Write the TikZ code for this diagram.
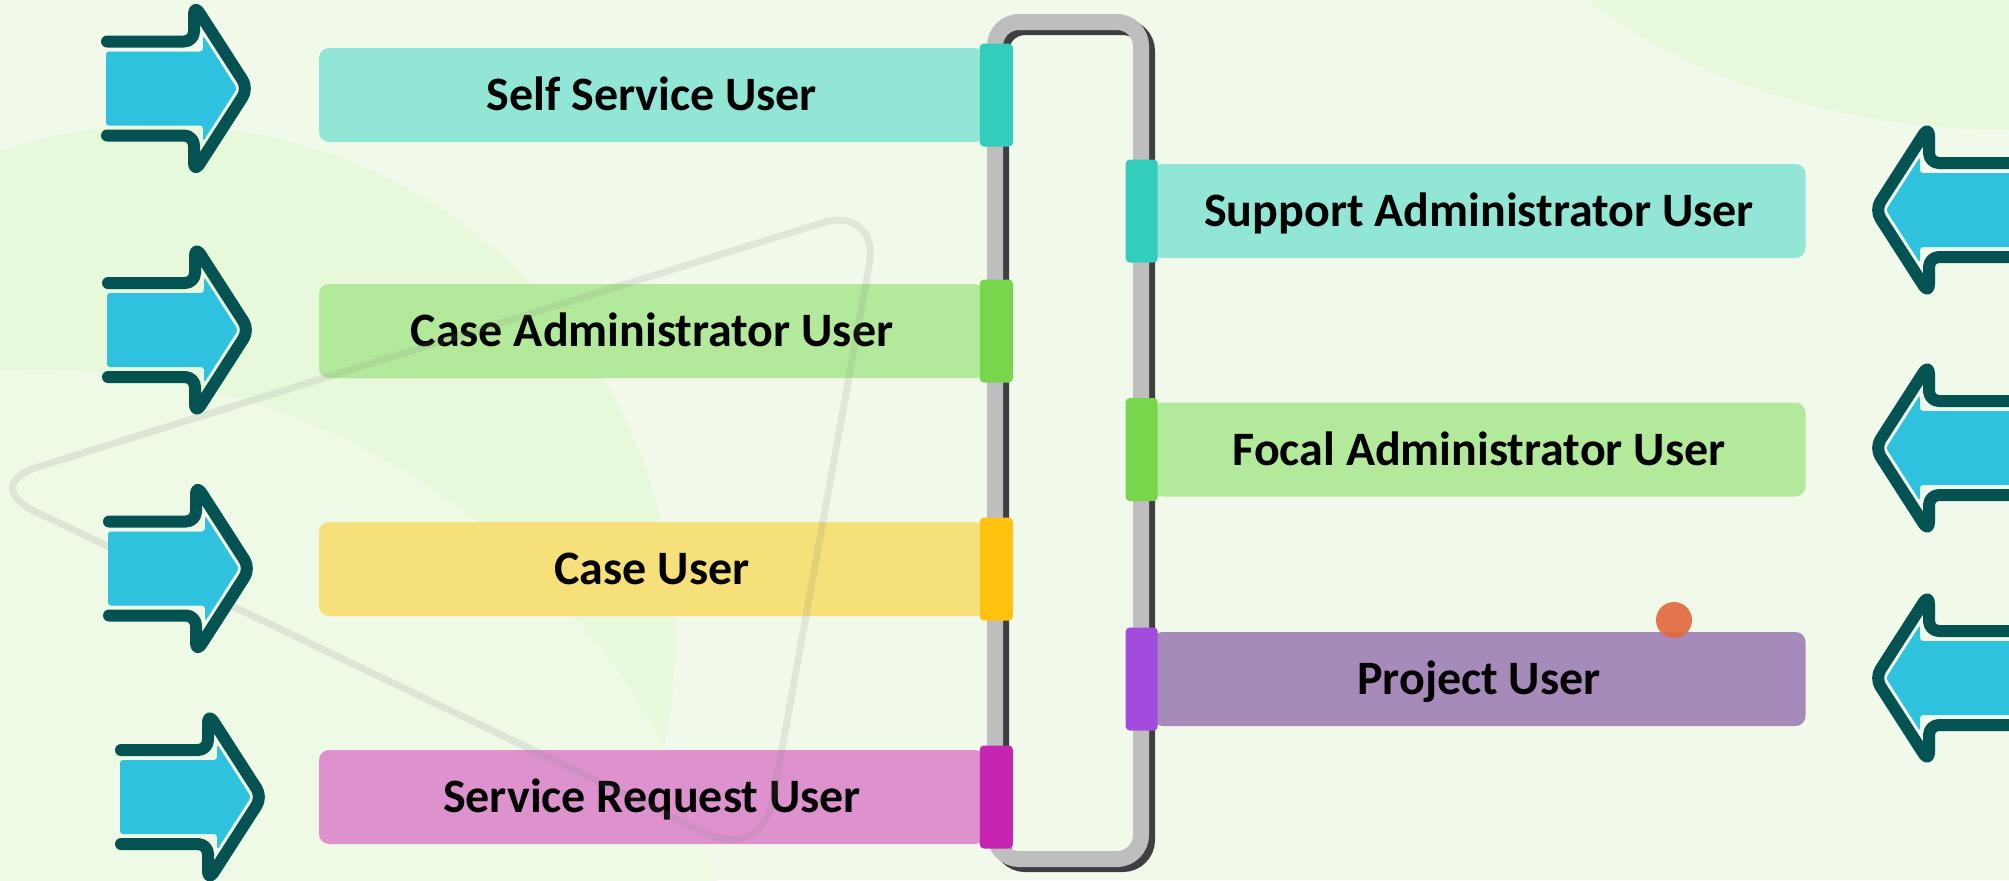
\documentclass[tikz,border=0pt]{standalone}
\usepackage{fontspec}
\setmainfont{Carlito}
\definecolor{bgcol}{HTML}{F1FAEA}
\definecolor{blobcol}{HTML}{E7F8DB}
\definecolor{blobtwo}{HTML}{EEF9E6}
\definecolor{tealbox}{HTML}{92E6D6}
\definecolor{tealtab}{HTML}{32CDBC}
\definecolor{greenbox}{HTML}{B3E99A}
\definecolor{greentab}{HTML}{77D64B}
\definecolor{yellowbox}{HTML}{F5E07A}
\definecolor{yellowtab}{HTML}{FFC20E}
\definecolor{pinkbox}{HTML}{DD92CE}
\definecolor{pinktab}{HTML}{C525B0}
\definecolor{purplebox}{HTML}{A68ABA}
\definecolor{purpletab}{HTML}{A24BDF}
\definecolor{arrowfill}{HTML}{2EC2DE}
\definecolor{arrowline}{HTML}{045252}
\definecolor{railgray}{HTML}{BEBEBE}
\definecolor{railshadow}{HTML}{3E3F42}
\definecolor{dotcol}{HTML}{E2683C}
\tikzset{
  userbox/.style={fill=#1, rounded corners=5pt, inner sep=0pt, minimum height=47pt,
    font=\bfseries\fontsize{24}{28}\selectfont, text height=15.5pt, text depth=0pt},
  lbox/.style={userbox=#1, minimum width=333pt},
  rbox/.style={userbox=#1, minimum width=326.5pt},
  usertab/.style={fill=#1, rounded corners=2pt, inner sep=0pt, minimum width=16.5pt, minimum height=51.5pt},
}
\begin{document}
\begin{tikzpicture}[x=0.5pt,y=-0.5pt,line join=round]
	%==background
	\useasboundingbox (0,0) rectangle (2009,880);
	\clip (0,0) rectangle (2009,880);
	\fill[bgcol] (0,0) rectangle (2009,880);
	\fill[blobcol] (160,640) circle (515);
	\fill[blobtwo] (40,1075) circle (705);
	\fill[blobcol] (2009,-250) ellipse [x radius=560, y radius=380];
	%==rail
	\draw[railshadow, line width=8pt, rounded corners=12pt] (1001,27) rectangle (1147,864);
	\draw[railgray, line width=8pt, rounded corners=12pt] (995,22) rectangle (1141,859);
	%==user boxes
	\node[lbox=tealbox] (ss) at (652,95) {Self Service User};
	\node[lbox=greenbox] (ca) at (652,331) {Case Administrator User};
	\node[lbox=yellowbox] (cu) at (652,569) {Case User};
	\node[lbox=pinkbox] (sr) at (652,797) {Service Request User};
	\node[rbox=tealbox] (sa) at (1479,211) {Support Administrator User};
	\node[rbox=greenbox] (fa) at (1479,449.5) {Focal Administrator User};
	\node[rbox=purplebox] (pu) at (1479,679) {Project User};
	\foreach \n/\c in {ss/tealtab,ca/greentab,cu/yellowtab,sr/pinktab}
		\node[usertab=\c, anchor=west] (\n-tab) at ([xshift=-3pt]\n.east) {};
	\foreach \n/\c in {sa/tealtab,fa/greentab,pu/purpletab}
		\node[usertab=\c, minimum width=16pt, anchor=east] (\n-tab) at ([xshift=3pt]\n.west) {};
	%==faint triangle
	\draw[gray, opacity=.15, line width=3.5pt, rounded corners=30pt] (-20,485) -- (880,205) -- (762,860) -- cycle;
	%==arrows
	\foreach \x/\y/\s in {107/88.5/1,108/330/1,109/568.5/1,121/797/1,2016/210/-1,2016/448/-1,2016/678/-1}{
		\fill[arrowfill, rounded corners=1.5pt, shift={(\x,\y)}, xscale=\s] (-1,-37) -- (96,-37) -- (96,-53) -- (130,0) -- (96,53) -- (96,37) -- (-1,37) -- cycle;
		\draw[arrowline, line width=6pt, line cap=round, rounded corners=5pt, shift={(\x,\y)}, xscale=\s] (0,-47) -- (87,-47) -- (87,-84) -- (141,0) -- (87,84) -- (87,47) -- (0,47);
	}
	\fill[dotcol, opacity=.9] (1674,620) circle (18);
\end{tikzpicture}
\end{document}
